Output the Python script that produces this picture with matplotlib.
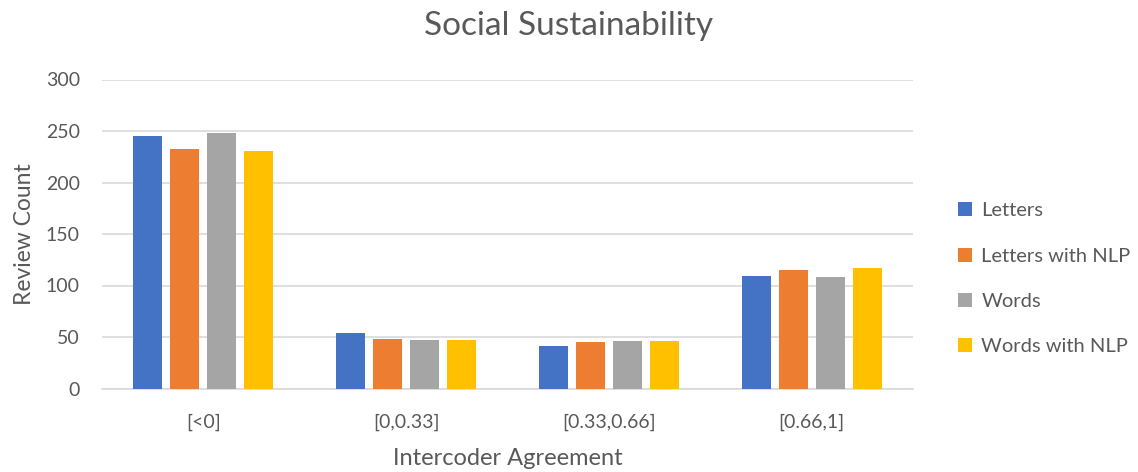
import numpy as np
import matplotlib.pyplot as plt

plt.rcParams['font.family'] = ['Lato', 'DejaVu Sans']

categories = ["[<0]", "[0,0.33]", "[0.33,0.66]", "[0.66,1]"]
series_names = ["Letters", "Letters with NLP", "Words", "Words with NLP"]
letters = [245, 54, 41, 109]
letters_nlp = [233, 48, 45, 115]
words = [248, 47, 46, 108]
words_nlp = [231, 47, 46, 117]
yticks = [0, 50, 100, 150, 200, 250, 300]

colors = ["#4472c4", "#ed7d31", "#a5a5a5", "#ffc000"]
text_color = "#595959"

fig = plt.figure(figsize=(11.38, 4.72), dpi=100)
ax = fig.add_axes([102 / 1138, 1 - 388.5 / 472, 811 / 1138, 309 / 472])

x = np.arange(len(categories))
pitch = 0.1825
width = 0.143
for i, (vals, name) in enumerate(zip([letters, letters_nlp, words, words_nlp], series_names)):
    ax.bar(x + (i - 1.5) * pitch, vals, width, color=colors[i], label=name, zorder=3)

ax.set_xlim(-0.5, len(categories) - 0.5)
ax.set_ylim(0, 300)
ax.set_yticks(yticks)
ax.set_xticks(x)
ax.set_xticklabels(categories)
ax.yaxis.grid(True, color="#d9d9d9", linewidth=1.2, zorder=0)
ax.tick_params(axis='x', length=0, labelsize=14, colors=text_color, pad=18)
ax.tick_params(axis='y', length=0, labelsize=14, colors=text_color, pad=16)
for side in ['top', 'right', 'left']:
    ax.spines[side].set_visible(False)
ax.spines['bottom'].set_color("#d9d9d9")
ax.spines['bottom'].set_linewidth(1.2)

ax.set_xlabel("Intercoder Agreement", fontsize=17, color=text_color, labelpad=12)
ax.set_ylabel("Review Count", fontsize=16.5, color=text_color, labelpad=8)
fig.text(0.5, 1 - 26 / 472, "Social Sustainability",
         ha='center', va='center', fontsize=24, color=text_color)

leg = ax.legend(loc='center left', bbox_to_anchor=((940 - 102) / 811, 0.355),
                frameon=False, fontsize=14.5, handlelength=0.7, handleheight=0.7,
                labelspacing=1.4, handletextpad=0.45)
for t in leg.get_texts():
    t.set_color(text_color)

fig.savefig("out.png", dpi=100)
